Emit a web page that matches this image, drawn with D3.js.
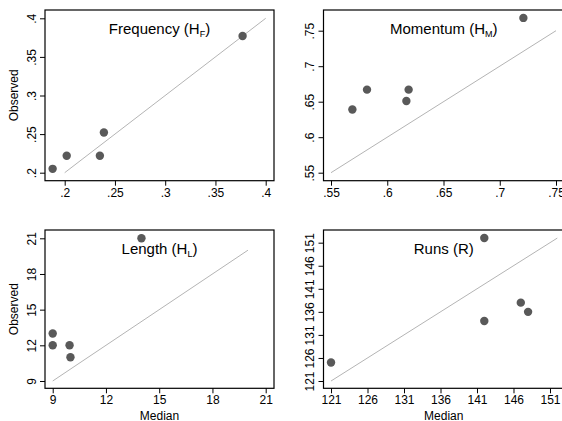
<!DOCTYPE html>
<html>
<head>
<meta charset="utf-8">
<script src="https://cdn.jsdelivr.net/npm/d3@7"></script>
<style>
  body { margin: 0; background: #ffffff; }
  svg { display: block; font-family: "Liberation Sans", Arial, sans-serif; }
</style>
</head>
<body>
<div id="chart"></div>
<script>
// Values: median (x) vs observed (y) for each statistic
const freqMedian = [0.188, 0.202, 0.235, 0.239, 0.377];
const freqObserved = [0.205, 0.222, 0.222, 0.252, 0.377];

const momMedian = [0.569, 0.582, 0.617, 0.619, 0.721];
const momObserved = [0.639, 0.667, 0.651, 0.667, 0.768];

const lenMedian = [9, 9, 9.95, 10, 14];
const lenObserved = [13, 12, 12, 11, 21];

const runsMedian = [121, 142, 142, 147, 148];
const runsObserved = [125, 152, 134, 138, 136];

// 45 degree reference line ends
const freqLine = [0.2, 0.4];
const momLine = [0.55, 0.75];
const lenLine = [9, 20];
const runsLine = [121, 152];

// Tick values and their labels
const freqTicks = [0.2, 0.25, 0.3, 0.35, 0.4];
const freqTickLabels = [".2", ".25", ".3", ".35", ".4"];
const momTicks = [0.55, 0.6, 0.65, 0.7, 0.75];
const momTickLabels = [".55", ".6", ".65", ".7", ".75"];
const lenTicks = [9, 12, 15, 18, 21];
const lenTickLabels = ["9", "12", "15", "18", "21"];
const runsTicks = [121, 126, 131, 136, 141, 146, 151];
const runsTickLabels = ["121", "126", "131", "136", "141", "146", "151"];

const width = 562;
const height = 421;

const svg = d3.select("#chart")
  .append("svg")
  .attr("width", width)
  .attr("height", height);

// Panel boxes: [left, right] and [top, bottom] in pixels
const cols = [[45, 274], [323.5, 564]];
const rows = [[10, 180.7], [230, 388.3]];

const panels = [
  {
    title: "Frequency (H", sub: "F", tail: ")",
    x: freqMedian, y: freqObserved, line: freqLine,
    xDomain: [0.1804, 0.40826], yDomain: [0.18964, 0.41075],
    ticks: freqTicks, labels: freqTickLabels, xTicks: freqTicks, xLabels: freqTickLabels,
    col: 0, row: 0, yTitle: true, xTitle: false
  },
  {
    title: "Momentum (H", sub: "M", tail: ")",
    x: momMedian, y: momObserved, line: momLine,
    xDomain: [0.54333, 0.7571], yDomain: [0.53873, 0.77915],
    ticks: momTicks, labels: momTickLabels, xTicks: momTicks, xLabels: momTickLabels,
    col: 1, row: 0, yTitle: false, xTitle: false
  },
  {
    title: "Length (H", sub: "L", tail: ")",
    x: lenMedian, y: lenObserved, line: lenLine,
    xDomain: [8.566, 21.468], yDomain: [8.386, 21.698],
    ticks: lenTicks, labels: lenTickLabels, xTicks: lenTicks, xLabels: lenTickLabels,
    col: 0, row: 1, yTitle: true, xTitle: true
  },
  {
    title: "Runs (R)", sub: null, tail: null,
    x: runsMedian, y: runsObserved, line: runsLine,
    xDomain: [119.97, 152.92], yDomain: [119.42, 153.75],
    ticks: runsTicks, labels: runsTickLabels, xTicks: runsTicks, xLabels: runsTickLabels,
    col: 1, row: 1, yTitle: false, xTitle: true
  }
];

panels.forEach(p => {
  const [left, right] = cols[p.col];
  const [top, bottom] = rows[p.row];

  const x = d3.scaleLinear().domain(p.xDomain).range([left, right]);
  const y = d3.scaleLinear().domain(p.yDomain).range([bottom, top]);

  const g = svg.append("g").attr("class", "panel");

  // Reference line y = x
  g.append("line")
    .attr("x1", x(p.line[0])).attr("y1", y(p.line[0]))
    .attr("x2", x(p.line[1])).attr("y2", y(p.line[1]))
    .attr("stroke", "#b4b4b4")
    .attr("stroke-width", 1);

  // Points
  g.selectAll("circle")
    .data(p.x.map((d, i) => [d, p.y[i]]))
    .enter()
    .append("circle")
    .attr("cx", d => x(d[0]))
    .attr("cy", d => y(d[1]))
    .attr("r", 4.2)
    .attr("fill", "#595959");

  // Box around plot region
  g.append("rect")
    .attr("x", left).attr("y", top)
    .attr("width", right - left).attr("height", bottom - top)
    .attr("fill", "none")
    .attr("stroke", "#000")
    .attr("stroke-width", 1.2);

  // Bottom axis
  const xAxis = g.append("g")
    .attr("transform", `translate(0,${bottom})`)
    .call(d3.axisBottom(x).tickValues(p.xTicks).tickSize(5)
      .tickFormat((d, i) => p.xLabels[i]));
  xAxis.select(".domain").remove();
  xAxis.selectAll("line").attr("stroke", "#000");
  xAxis.selectAll("text")
    .attr("y", 16).attr("dy", null)
    .attr("font-size", 12)
    .attr("font-family", "Liberation Sans, Arial, sans-serif")
    .attr("fill", "#000");

  // Left axis with vertical labels
  const yAxis = g.append("g")
    .attr("transform", `translate(${left},0)`)
    .call(d3.axisLeft(y).tickValues(p.ticks).tickSize(5)
      .tickFormat((d, i) => p.labels[i]));
  yAxis.select(".domain").remove();
  yAxis.selectAll("line").attr("stroke", "#000");
  yAxis.selectAll("text")
    .attr("x", null).attr("dy", null)
    .attr("transform", "translate(-9.5,0) rotate(-90)")
    .attr("text-anchor", "middle")
    .attr("font-size", 12)
    .attr("font-family", "Liberation Sans, Arial, sans-serif")
    .attr("fill", "#000");

  // Panel title with subscript
  const t = g.append("text")
    .attr("x", (left + right) / 2)
    .attr("y", top + 23.5)
    .attr("text-anchor", "middle")
    .attr("font-size", 15)
    .attr("fill", "#000");
  t.append("tspan").text(p.title);
  if (p.sub) {
    t.append("tspan").attr("font-size", 9).attr("dy", 3).text(p.sub);
    t.append("tspan").attr("dy", -3).text(p.tail);
  }

  if (p.yTitle) {
    g.append("text")
      .attr("transform", `translate(17.5,${(top + bottom) / 2}) rotate(-90)`)
      .attr("text-anchor", "middle")
      .attr("font-size", 12)
      .attr("fill", "#000")
      .text("Observed");
  }

  if (p.xTitle) {
    g.append("text")
      .attr("x", (left + right) / 2)
      .attr("y", 419.5)
      .attr("text-anchor", "middle")
      .attr("font-size", 12)
      .attr("fill", "#000")
      .text("Median");
  }
});
</script>
</body>
</html>
